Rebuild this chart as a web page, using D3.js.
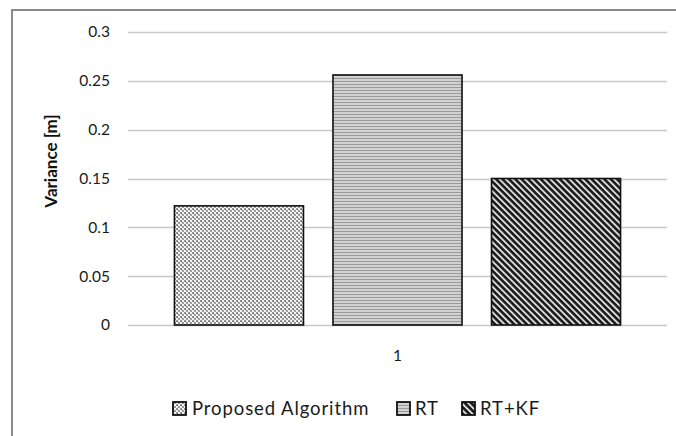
<!DOCTYPE html>
<html>
<head>
<meta charset="utf-8">
<script src="https://cdn.jsdelivr.net/npm/d3@7"></script>
<style>
  html, body { margin: 0; padding: 0; background: #fff; }
  svg { display: block; font-family: Lato, "Open Sans", sans-serif; }
</style>
</head>
<body>
<svg id="chart" width="676" height="436"></svg>
<script>
// Variance per method, single experiment group "1"
const categories = ["1"];
const seriesNames = ["Proposed Algorithm", "RT", "RT+KF"];
const seriesValues = [0.122, 0.256, 0.15];
const yTicks = [0, 0.05, 0.1, 0.15, 0.2, 0.25, 0.3];
const yTickLabels = ["0", "0.05", "0.1", "0.15", "0.2", "0.25", "0.3"];
const patternIds = ["pat-checker", "pat-horiz", "pat-diag"];

const svg = d3.select("#chart");
const defs = svg.append("defs");

// Small checker / dotted pattern
const p1 = defs.append("pattern").attr("id", "pat-checker")
  .attr("patternUnits", "userSpaceOnUse").attr("width", 4).attr("height", 4);
p1.append("rect").attr("width", 4).attr("height", 4).attr("fill", "#f4f4f4");
p1.append("rect").attr("x", 0).attr("y", 0).attr("width", 2).attr("height", 2).attr("fill", "#9a9a9a");
p1.append("rect").attr("x", 2).attr("y", 2).attr("width", 2).attr("height", 2).attr("fill", "#9a9a9a");
p1.append("rect").attr("x", 1).attr("y", 1).attr("width", 1).attr("height", 1).attr("fill", "#555");

// Narrow horizontal stripes
const p2 = defs.append("pattern").attr("id", "pat-horiz")
  .attr("patternUnits", "userSpaceOnUse").attr("width", 4).attr("height", 3);
p2.append("rect").attr("width", 4).attr("height", 3).attr("fill", "#d2d2d2");
p2.append("rect").attr("y", 0).attr("width", 4).attr("height", 1).attr("fill", "#9a9a9a");

// Wide diagonal stripes
const p3 = defs.append("pattern").attr("id", "pat-diag")
  .attr("patternUnits", "userSpaceOnUse").attr("width", 4.5).attr("height", 4.5)
  .attr("patternTransform", "rotate(45)");
p3.append("rect").attr("width", 4.5).attr("height", 4.5).attr("fill", "#dedede");
p3.append("rect").attr("width", 4.5).attr("height", 2.6).attr("fill", "#1a1a1a");

// Outer frame
svg.append("path")
  .attr("d", "M12,436 L12,10 L676,10")
  .attr("fill", "none").attr("stroke", "#8a8a8a").attr("stroke-width", 2);

const plotLeft = 128, plotRight = 667;
const y = d3.scaleLinear().domain([0, 0.3]).range([325, 32]);
const x0 = d3.scaleBand().domain(categories).range([plotLeft, plotRight]);
const x1 = d3.scaleBand().domain(seriesNames)
  .range([0, x0.bandwidth()]).paddingInner(0.186).paddingOuter(0.293);

// Gridlines
svg.append("g").selectAll("line").data(yTicks).join("line")
  .attr("x1", plotLeft).attr("x2", plotRight)
  .attr("y1", d => Math.round(y(d)) + 0.5).attr("y2", d => Math.round(y(d)) + 0.5)
  .attr("stroke", "#c8c8c8").attr("stroke-width", 1.3);

// Y axis labels
const yAxis = d3.axisLeft(y).tickValues(yTicks)
  .tickFormat((d, i) => yTickLabels[i]).tickSize(0).tickPadding(0);
const gy = svg.append("g").attr("transform", "translate(110,0)").call(yAxis);
gy.select(".domain").remove();
gy.selectAll("text").attr("font-size", 15.5).attr("fill", "#1a1a1a")
  .attr("font-family", "Lato, sans-serif");

// Bars
const groups = svg.append("g").selectAll("g").data(categories).join("g")
  .attr("transform", d => `translate(${x0(d)},0)`);
groups.selectAll("rect").data(seriesNames.map((s, i) => ({ s, v: seriesValues[i], i })))
  .join("rect")
  .attr("x", d => x1(d.s))
  .attr("y", d => y(d.v))
  .attr("width", x1.bandwidth())
  .attr("height", d => y(0) - y(d.v))
  .attr("fill", d => `url(#${patternIds[d.i]})`)
  .attr("stroke", "#111").attr("stroke-width", 1.6);

// X axis category label
const xAxis = d3.axisBottom(x0).tickSize(0).tickPadding(0);
const gx = svg.append("g").attr("transform", "translate(0,350)").call(xAxis);
gx.select(".domain").remove();
gx.selectAll("text").attr("font-size", 15.5).attr("fill", "#1a1a1a")
  .attr("font-family", "Lato, sans-serif");

// Y axis title
svg.append("text")
  .attr("transform", "translate(57,161) rotate(-90)")
  .attr("text-anchor", "middle")
  .attr("font-size", 17).attr("font-weight", "bold").attr("fill", "#111")
  .text("Variance [m]");

// Legend
const legendItems = [
  { x: 173, tx: 192 },
  { x: 397, tx: 415 },
  { x: 462, tx: 480 }
];
const legend = svg.append("g");
seriesNames.forEach((name, i) => {
  const it = legendItems[i];
  legend.append("rect")
    .attr("x", it.x).attr("y", 402).attr("width", 13).attr("height", 13)
    .attr("fill", `url(#${patternIds[i]})`).attr("stroke", "#111").attr("stroke-width", 1.8);
  legend.append("text")
    .attr("x", it.tx).attr("y", 415)
    .attr("font-size", 18.5).attr("letter-spacing", 0.9).attr("fill", "#1a1a1a")
    .text(name);
});
</script>
</body>
</html>
